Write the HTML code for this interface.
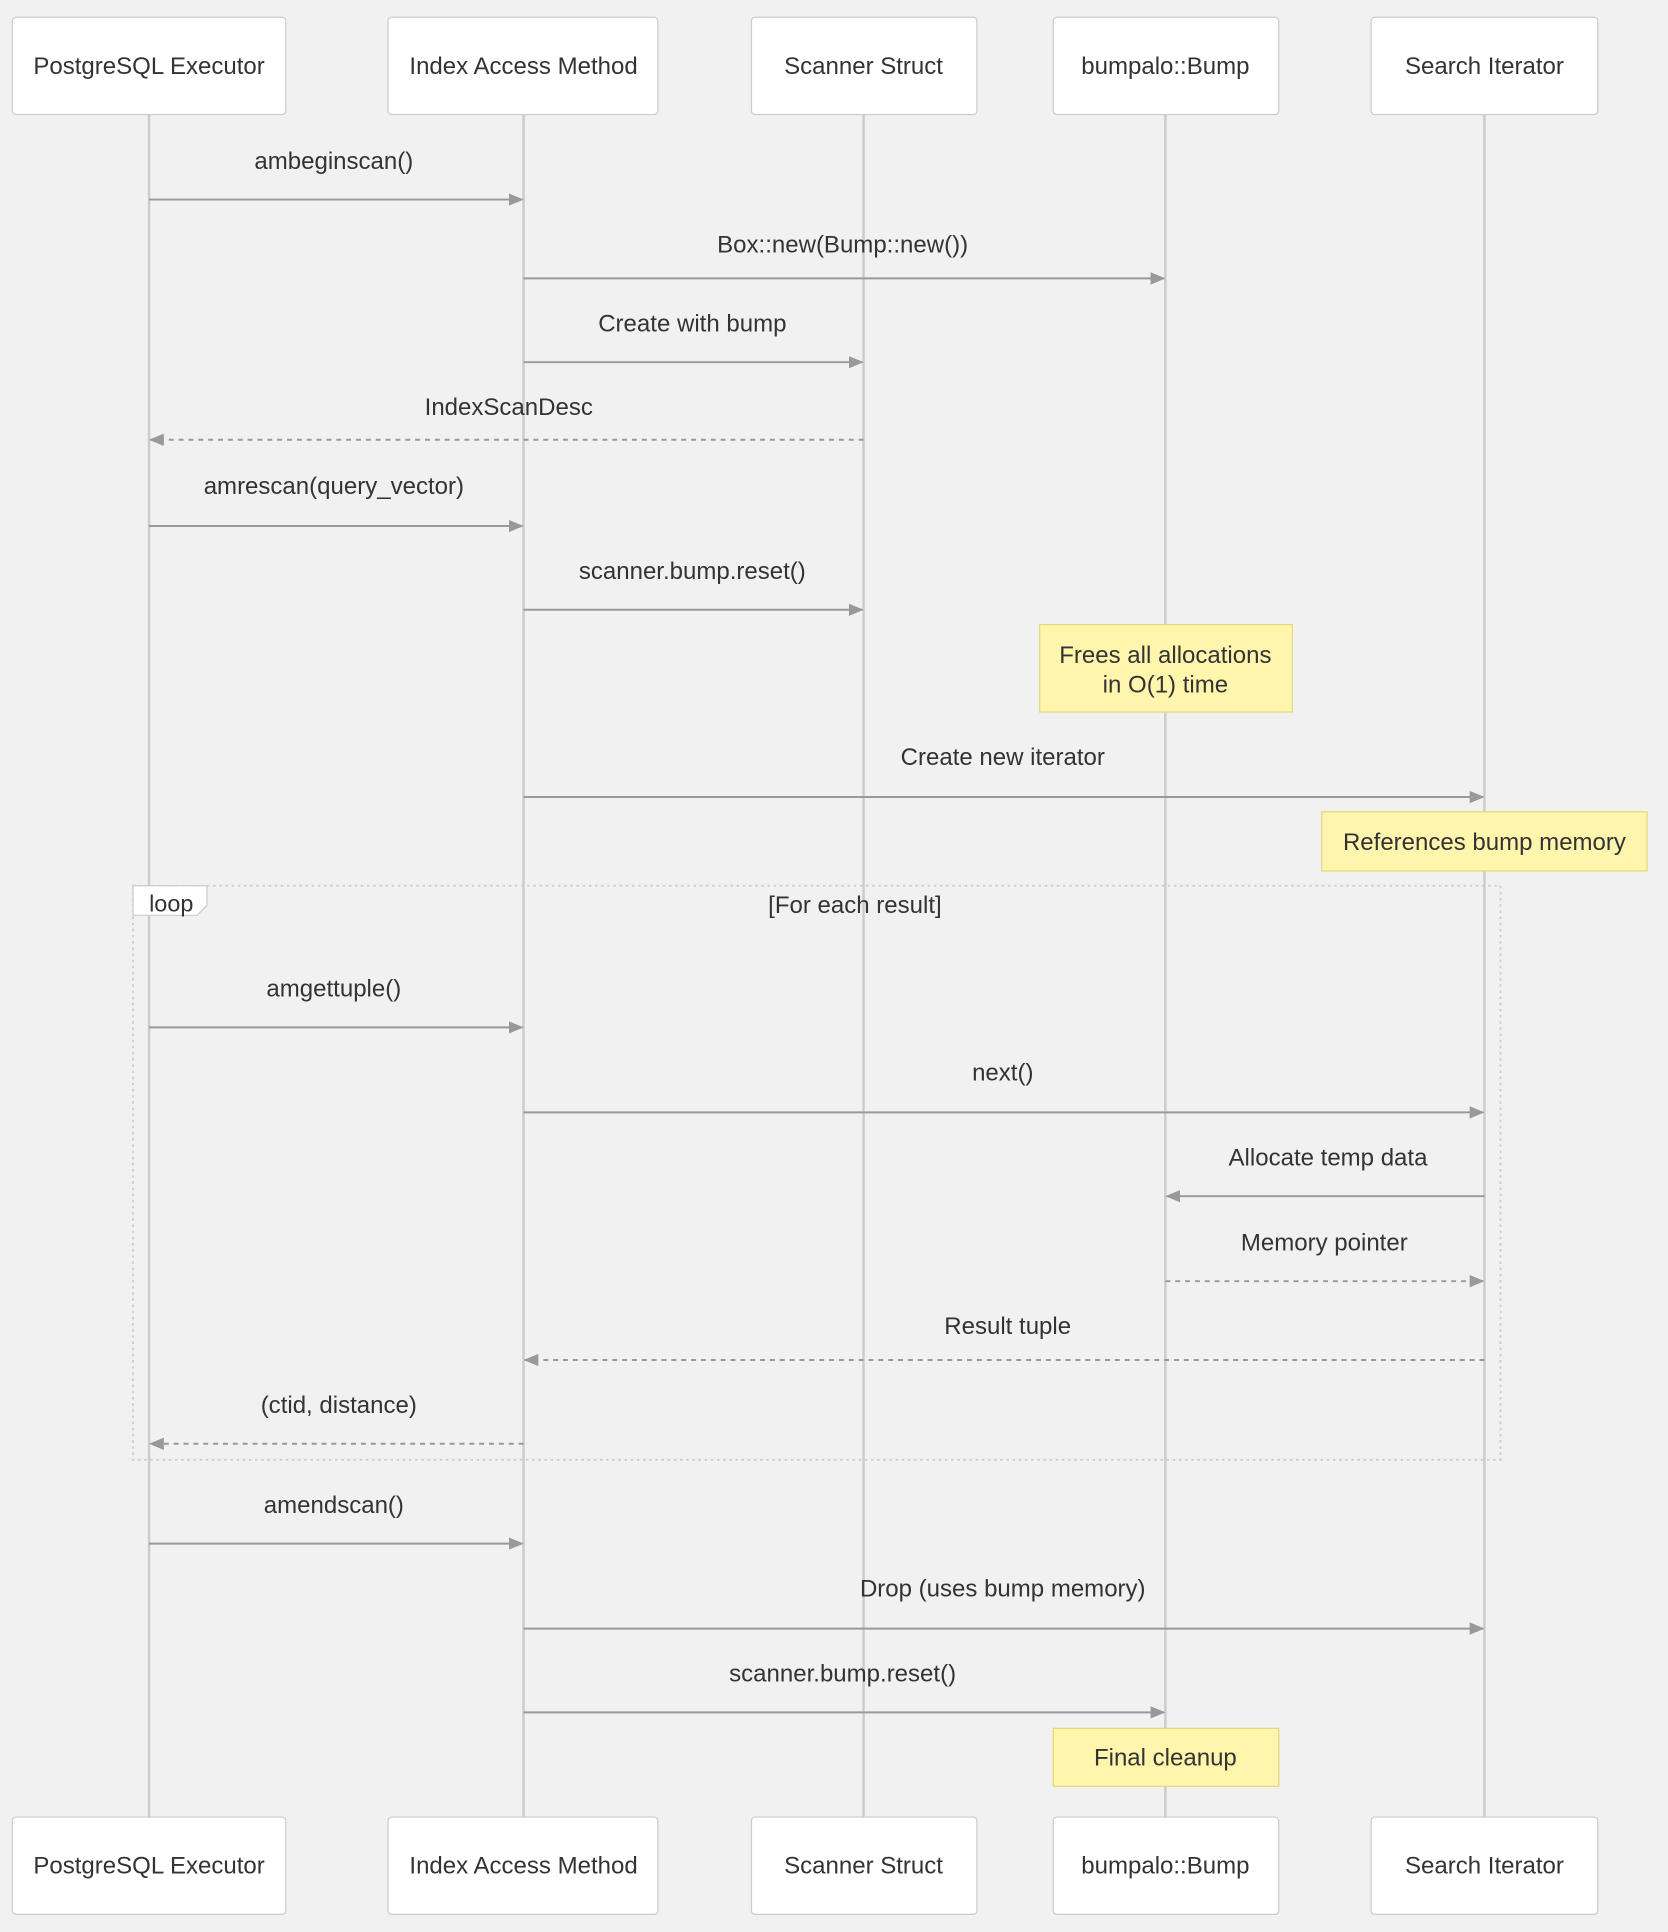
<!DOCTYPE html>
<html><head><meta charset="utf-8"><style>
html,body{margin:0;padding:0;background:#f1f1f1;}
svg{display:block;}
text{font-family:"Liberation Sans",sans-serif;fill:#333;}
</style></head><body>
<svg width="1668" height="1932" viewBox="0 0 1354 1568.3" xmlns="http://www.w3.org/2000/svg">
<defs>
<marker id="a" markerWidth="12" markerHeight="12" refX="11" refY="6" orient="auto" markerUnits="userSpaceOnUse">
<path d="M0,1 L12,6 L0,11 z" fill="#999"/>
</marker>
</defs>
<rect width="1354" height="1569" fill="#f1f1f1"/>
<g stroke="#cccccc" stroke-width="2">
<line x1="121" y1="93" x2="121" y2="1475"/>
<line x1="425" y1="93" x2="425" y2="1475"/>
<line x1="701" y1="93" x2="701" y2="1475"/>
<line x1="946" y1="93" x2="946" y2="1475"/>
<line x1="1205" y1="93" x2="1205" y2="1475"/>
</g>
<g fill="#fff" stroke="#ccc" stroke-width="1">
<rect x="10" y="14" width="222" height="79" rx="3"/>
<rect x="315" y="14" width="219" height="79" rx="3"/>
<rect x="610" y="14" width="183" height="79" rx="3"/>
<rect x="855" y="14" width="183" height="79" rx="3"/>
<rect x="1113" y="14" width="184" height="79" rx="3"/>
<rect x="10" y="1475" width="222" height="79" rx="3"/>
<rect x="315" y="1475" width="219" height="79" rx="3"/>
<rect x="610" y="1475" width="183" height="79" rx="3"/>
<rect x="855" y="1475" width="183" height="79" rx="3"/>
<rect x="1113" y="1475" width="184" height="79" rx="3"/>
</g>
<g font-size="19.5" text-anchor="middle">
<text x="121" y="60">PostgreSQL Executor</text>
<text x="425" y="60">Index Access Method</text>
<text x="701" y="60">Scanner Struct</text>
<text x="946" y="60">bumpalo::Bump</text>
<text x="1205" y="60">Search Iterator</text>
<text x="121" y="1521">PostgreSQL Executor</text>
<text x="425" y="1521">Index Access Method</text>
<text x="701" y="1521">Scanner Struct</text>
<text x="946" y="1521">bumpalo::Bump</text>
<text x="1205" y="1521">Search Iterator</text>
</g>
<g fill="#fff5ad" stroke="#e6d77a" stroke-width="1">
<rect x="844" y="507" width="205" height="71"/>
<rect x="1073" y="659" width="264" height="48"/>
<rect x="855" y="1403" width="183" height="47"/>
</g>
<g font-size="19.5" text-anchor="middle">
<text x="946" y="538">Frees all allocations</text>
<text x="946" y="562">in O(1) time</text>
<text x="1205" y="690">References bump memory</text>
<text x="946" y="1433">Final cleanup</text>
</g>
<rect x="108" y="719" width="1110" height="466" fill="none" stroke="#ccc" stroke-width="1.5" stroke-dasharray="2,3"/>
<path d="M108,719 H168 V735 L160,743 H108 Z" fill="#fff" stroke="#ccc" stroke-width="1"/>
<text x="139" y="740" font-size="19" text-anchor="middle">loop</text>
<text x="694" y="741" font-size="19.5" text-anchor="middle">[For each result]</text>
<g stroke="#999" stroke-width="1.6" fill="none" marker-end="url(#a)">
<line x1="121" y1="162" x2="424" y2="162"/>
<line x1="425" y1="226" x2="945" y2="226"/>
<line x1="425" y1="294" x2="700" y2="294"/>
<line x1="701" y1="357" x2="122" y2="357" stroke-dasharray="4,4"/>
<line x1="121" y1="427" x2="424" y2="427"/>
<line x1="425" y1="495" x2="700" y2="495"/>
<line x1="425" y1="647" x2="1204" y2="647"/>
<line x1="121" y1="834" x2="424" y2="834"/>
<line x1="425" y1="903" x2="1204" y2="903"/>
<line x1="1205" y1="971" x2="947" y2="971"/>
<line x1="946" y1="1040" x2="1204" y2="1040" stroke-dasharray="4,4"/>
<line x1="1205" y1="1104" x2="426" y2="1104" stroke-dasharray="4,4"/>
<line x1="425" y1="1172" x2="122" y2="1172" stroke-dasharray="4,4"/>
<line x1="121" y1="1253" x2="424" y2="1253"/>
<line x1="425" y1="1322" x2="1204" y2="1322"/>
<line x1="425" y1="1390" x2="945" y2="1390"/>
</g>
<g font-size="19.5" text-anchor="middle">
<text x="271" y="137">ambeginscan()</text>
<text x="684" y="205">Box::new(Bump::new())</text>
<text x="562" y="269">Create with bump</text>
<text x="413" y="337">IndexScanDesc</text>
<text x="271" y="401">amrescan(query_vector)</text>
<text x="562" y="470">scanner.bump.reset()</text>
<text x="814" y="621">Create new iterator</text>
<text x="271" y="809">amgettuple()</text>
<text x="814" y="877">next()</text>
<text x="1078" y="946">Allocate temp data</text>
<text x="1075" y="1015">Memory pointer</text>
<text x="818" y="1083">Result tuple</text>
<text x="275" y="1147">(ctid, distance)</text>
<text x="271" y="1228">amendscan()</text>
<text x="814" y="1296">Drop (uses bump memory)</text>
<text x="684" y="1365">scanner.bump.reset()</text>
</g>
</svg>
</body></html>
